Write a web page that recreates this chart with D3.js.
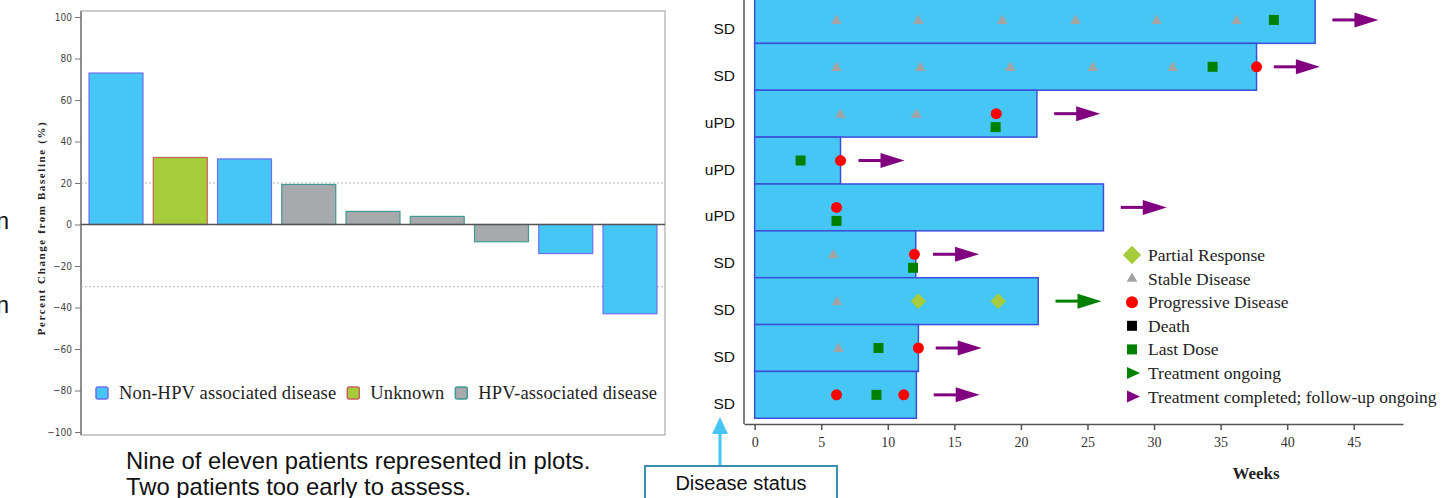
<!DOCTYPE html>
<html>
<head>
<meta charset="utf-8">
<script src="https://d3js.org/d3.v7.min.js"></script>
<style>
  body { margin: 0; background: #fff; }
  svg { display: block; }
  .serif { font-family: "Liberation Serif", "DejaVu Serif", serif; }
  .sans { font-family: "Liberation Sans", Arial, sans-serif; }
  .axisL text { font-family: "Liberation Sans Narrow", "DejaVu Sans Condensed", sans-serif; font-stretch: condensed; font-size: 10px; fill: #444; }
  .axisL line { stroke: #777; }
  .axisR text { font-family: "Liberation Serif", serif; font-size: 14px; fill: #333; }
  .axisR line, .axisR path { stroke: #555; stroke-width: 1.5; }
</style>
</head>
<body>
<div id="chart"></div>
<script>
// ---- waterfall data (left) ----
const patients = ["P1", "P2", "P3", "P4", "P5", "P6", "P7", "P8", "P9"];
const pctChange = [73, 32.3, 31.6, 19.3, 6.3, 3.9, -8.3, -14, -43];
const hpvStatus = ["Non-HPV associated disease", "Unknown", "Non-HPV associated disease",
                   "HPV-associated disease", "HPV-associated disease", "HPV-associated disease",
                   "HPV-associated disease", "Non-HPV associated disease", "Non-HPV associated disease"];
const groupNames = ["Non-HPV associated disease", "Unknown", "HPV-associated disease"];
const pctTicks = [-100, -80, -60, -40, -20, 0, 20, 40, 60, 80, 100];
const refLines = [20, -30];

// ---- swimmer data (right) ----
const statusLabels = ["SD", "SD", "uPD", "uPD", "uPD", "SD", "SD", "SD", "SD"];
const weeksOnStudy = [42.1, 37.7, 21.2, 6.45, 26.2, 12.1, 21.3, 12.3, 12.15];
// [row, week]
const partialResponse = [[6, 12.3], [6, 18.3]];
const stableDisease = [[0, 6.15], [0, 12.3], [0, 18.6], [0, 24.1], [0, 30.2], [0, 36.2],
                       [1, 6.15], [1, 12.45], [1, 19.2], [1, 25.4], [1, 31.4],
                       [2, 6.45], [2, 12.15], [5, 5.9], [6, 6.2], [7, 6.3]];
const progressive = [[1, 37.7], [2, 18.15], [3, 6.45], [4, 6.15], [5, 12.0], [7, 12.3], [8, 6.15], [8, 11.2]];
// [row, week, lane]  lane 1 = drawn under a coincident PD dot
const lastDose = [[0, 39.0, 0], [1, 34.4, 0], [2, 18.1, 1], [3, 3.45, 0], [4, 6.15, 1],
                  [5, 11.9, 1], [7, 9.3, 0], [8, 9.15, 0]];
const arrowStart = [43.4, 39.0, 22.5, 7.8, 27.5, 13.4, 22.6, 13.6, 13.45];
const arrowKind = ["done", "done", "done", "done", "done", "done", "ongoing", "done", "done"];
const weekTicks = [0, 5, 10, 15, 20, 25, 30, 35, 40, 45];
const legendNames = ["Partial Response", "Stable Disease", "Progressive Disease", "Death",
                     "Last Dose", "Treatment ongoing", "Treatment completed; follow-up ongoing"];

const groupFill = { "Non-HPV associated disease": "#45c6f4", "Unknown": "#a6cb3b", "HPV-associated disease": "#a7a9ac" };
const groupStroke = { "Non-HPV associated disease": "#6f6ff0", "Unknown": "#c9605a", "HPV-associated disease": "#3f9a8f" };
const arrowColor = { done: "#800080", ongoing: "#008000" };

const svg = d3.select('#chart').append('svg')
    .attr('width', 1453)
    .attr('height', 498);

// ================= left: waterfall =================
const drawWaterfall = () => {
    const left = 81, right = 665, top = 11, bottom = 435;

    const yScale = d3.scaleLinear()
        .domain([-100, 100])
        .range([432, 17]);

    const xScale = d3.scaleBand()
        .domain(patients)
        .range([left, right])
        .paddingInner(0.16)
        .paddingOuter(0.125);

    const chart = svg.append('g');

    chart.append('rect')
        .attr('x', left).attr('y', top)
        .attr('width', right - left).attr('height', bottom - top)
        .attr('fill', 'none').attr('stroke', '#999');

    chart.append('line')
        .attr('x1', left).attr('x2', left)
        .attr('y1', top).attr('y2', bottom)
        .attr('stroke', '#666').attr('stroke-width', 1.2);

    chart.selectAll('.ref')
        .data(refLines)
        .enter()
        .append('line')
        .attr('class', 'ref')
        .attr('x1', left).attr('x2', right)
        .attr('y1', d => yScale(d)).attr('y2', d => yScale(d))
        .attr('stroke', '#b5b5b5')
        .attr('stroke-dasharray', '2,2');

    const rows = patients.map((p, i) => ({ p, v: pctChange[i], g: hpvStatus[i] }));

    chart.selectAll('.bar')
        .data(rows)
        .enter()
        .append('rect')
        .attr('class', 'bar')
        .attr('x', d => xScale(d.p))
        .attr('y', d => yScale(Math.max(d.v, 0)))
        .attr('width', xScale.bandwidth())
        .attr('height', d => Math.abs(yScale(d.v) - yScale(0)))
        .attr('fill', d => groupFill[d.g])
        .attr('stroke', d => groupStroke[d.g])
        .attr('stroke-width', 1.2);

    chart.append('line')
        .attr('x1', left).attr('x2', right)
        .attr('y1', yScale(0)).attr('y2', yScale(0))
        .attr('stroke', '#555').attr('stroke-width', 1.5);

    chart.append('g')
        .attr('class', 'axisL')
        .attr('transform', `translate(${left}, 0)`)
        .call(d3.axisLeft(yScale).tickValues(pctTicks).tickSize(6).tickSizeOuter(0).tickPadding(3))
        .call(g => g.select('.domain').remove());

    svg.append('text')
        .attr('class', 'serif')
        .attr('transform', 'rotate(-90)')
        .attr('x', -228)
        .attr('y', 45)
        .attr('text-anchor', 'middle')
        .attr('font-size', 11)
        .attr('font-weight', 'bold')
        .attr('letter-spacing', 1.6)
        .attr('fill', '#222')
        .text('Percent Change from Baseline (%)');

    // legend, laid out left to right
    let lx = 96;
    groupNames.forEach(name => {
        chart.append('rect')
            .attr('x', lx).attr('y', 387)
            .attr('width', 12).attr('height', 12).attr('rx', 2)
            .attr('fill', groupFill[name])
            .attr('stroke', groupStroke[name])
            .attr('stroke-width', 1.5);
        const t = chart.append('text')
            .attr('class', 'serif')
            .attr('x', lx + 23).attr('y', 399)
            .attr('font-size', 18.5)
            .attr('letter-spacing', 0.15)
            .attr('fill', '#222')
            .text(name);
        lx += 23 + t.node().getComputedTextLength() + 11;
    });
};

// ================= right: swimmer plot =================
const drawSwimmer = () => {
    const xScale = d3.scaleLinear()
        .domain([-0.8, 48.7])
        .range([744, 1403]);

    const yScale = d3.scaleBand()
        .domain(d3.range(statusLabels.length))
        .range([-3.5, 418.3]);

    const bw = yScale.bandwidth();
    const cy = (row, lane) => yScale(row) + bw / 2 + (lane || 0) * 13.5;

    const chart = svg.append('g');

    chart.selectAll('.lane')
        .data(weeksOnStudy)
        .enter()
        .append('rect')
        .attr('class', 'lane')
        .attr('x', xScale(0))
        .attr('y', (d, i) => yScale(i))
        .attr('width', d => xScale(d) - xScale(0))
        .attr('height', bw)
        .attr('fill', '#45c6f4')
        .attr('stroke', '#3d4fd8')
        .attr('stroke-width', 1.5);

    chart.append('line')
        .attr('x1', 744).attr('x2', 744)
        .attr('y1', 0).attr('y2', 424)
        .attr('stroke', '#555').attr('stroke-width', 1.5);

    chart.append('g')
        .attr('class', 'axisR')
        .attr('transform', 'translate(0, 424)')
        .call(d3.axisBottom(xScale).tickValues(weekTicks).tickSize(6).tickSizeOuter(0).tickPadding(7));

    svg.append('text')
        .attr('class', 'serif')
        .attr('x', 1256).attr('y', 479)
        .attr('text-anchor', 'middle')
        .attr('font-size', 17)
        .attr('font-weight', 'bold')
        .attr('fill', '#222')
        .text('Weeks');

    chart.selectAll('.status')
        .data(statusLabels)
        .enter()
        .append('text')
        .attr('class', 'status sans')
        .attr('x', 735)
        .attr('y', (d, i) => cy(i) + 14)
        .attr('text-anchor', 'end')
        .attr('font-size', 15.5)
        .attr('fill', '#111')
        .text(d => d);

    chart.selectAll('.sd')
        .data(stableDisease)
        .enter()
        .append('path')
        .attr('d', d3.symbol(d3.symbolTriangle, 50))
        .attr('transform', d => `translate(${xScale(d[1])}, ${cy(d[0]) + 1})`)
        .attr('fill', '#a3a3a3');

    chart.selectAll('.ld')
        .data(lastDose)
        .enter()
        .append('rect')
        .attr('x', d => xScale(d[1]) - 5)
        .attr('y', d => cy(d[0], d[2]) - 5)
        .attr('width', 10).attr('height', 10)
        .attr('fill', '#008000');

    chart.selectAll('.pd')
        .data(progressive)
        .enter()
        .append('circle')
        .attr('cx', d => xScale(d[1]))
        .attr('cy', d => cy(d[0]))
        .attr('r', 5.5)
        .attr('fill', '#ff0000');

    chart.selectAll('.pr')
        .data(partialResponse)
        .enter()
        .append('rect')
        .attr('x', -5.5).attr('y', -5.5)
        .attr('width', 11).attr('height', 11)
        .attr('transform', d => `translate(${xScale(d[1])}, ${cy(d[0])}) rotate(45)`)
        .attr('fill', '#a6cb3b');

    const arrows = chart.selectAll('.arrow')
        .data(arrowStart)
        .enter()
        .append('g')
        .attr('transform', (d, i) => `translate(${xScale(d)}, ${cy(i)})`);

    arrows.append('line')
        .attr('x1', 0).attr('x2', 24)
        .attr('y1', 0).attr('y2', 0)
        .attr('stroke', (d, i) => arrowColor[arrowKind[i]])
        .attr('stroke-width', 3);

    arrows.append('path')
        .attr('d', 'M22,-7.5L46,0L22,7.5Z')
        .attr('fill', (d, i) => arrowColor[arrowKind[i]]);

    // legend
    const legend = chart.selectAll('.leg')
        .data(legendNames)
        .enter()
        .append('g')
        .attr('transform', (d, i) => `translate(1132, ${255 + i * 23.6})`);

    legend.each(function (d, i) {
        const g = d3.select(this);
        if (i === 0) g.append('rect').attr('x', -6.5).attr('y', -6.5).attr('width', 13).attr('height', 13)
            .attr('transform', 'rotate(45)').attr('fill', '#a6cb3b');
        if (i === 1) g.append('path').attr('d', d3.symbol(d3.symbolTriangle, 50)).attr('fill', '#a3a3a3');
        if (i === 2) g.append('circle').attr('r', 6).attr('fill', '#ff0000');
        if (i === 3) g.append('rect').attr('x', -5).attr('y', -5).attr('width', 10).attr('height', 10).attr('fill', '#000');
        if (i === 4) g.append('rect').attr('x', -5).attr('y', -5).attr('width', 10).attr('height', 10).attr('fill', '#008000');
        if (i === 5) g.append('path').attr('d', 'M-5,-6L8,0L-5,6Z').attr('fill', '#008000');
        if (i === 6) g.append('path').attr('d', 'M-5,-6L8,0L-5,6Z').attr('fill', '#800080');
    });

    legend.append('text')
        .attr('class', 'serif')
        .attr('x', 16)
        .attr('y', 6)
        .attr('font-size', 17.5)
        .attr('fill', '#222')
        .text(d => d);
};

// ================= notes and callout =================
const drawNotes = () => {
    svg.append('text')
        .attr('class', 'sans')
        .attr('x', 126).attr('y', 469)
        .attr('font-size', 23.8)
        .attr('fill', '#111')
        .text('Nine of eleven patients represented in plots.');

    svg.append('text')
        .attr('class', 'sans')
        .attr('x', 126).attr('y', 495)
        .attr('font-size', 23.8)
        .attr('fill', '#111')
        .text('Two patients too early to assess.');

    // text cut by the left edge of the slide
    [229, 313].forEach(y => {
        svg.append('text')
            .attr('class', 'sans')
            .attr('x', 9).attr('y', y)
            .attr('text-anchor', 'end')
            .attr('font-size', 23)
            .attr('fill', '#111')
            .text('n');
    });

    svg.append('line')
        .attr('x1', 720).attr('x2', 720)
        .attr('y1', 466).attr('y2', 430)
        .attr('stroke', '#45c6f4').attr('stroke-width', 3);

    svg.append('path')
        .attr('d', 'M720,417L728,434L712,434Z')
        .attr('fill', '#45c6f4');

    svg.append('rect')
        .attr('x', 645).attr('y', 466)
        .attr('width', 192).attr('height', 40)
        .attr('fill', '#fff')
        .attr('stroke', '#3a8fb0')
        .attr('stroke-width', 2);

    svg.append('text')
        .attr('class', 'sans')
        .attr('x', 741).attr('y', 490)
        .attr('text-anchor', 'middle')
        .attr('font-size', 20)
        .attr('fill', '#111')
        .text('Disease status');
};

drawWaterfall();
drawSwimmer();
drawNotes();
</script>
</body>
</html>
